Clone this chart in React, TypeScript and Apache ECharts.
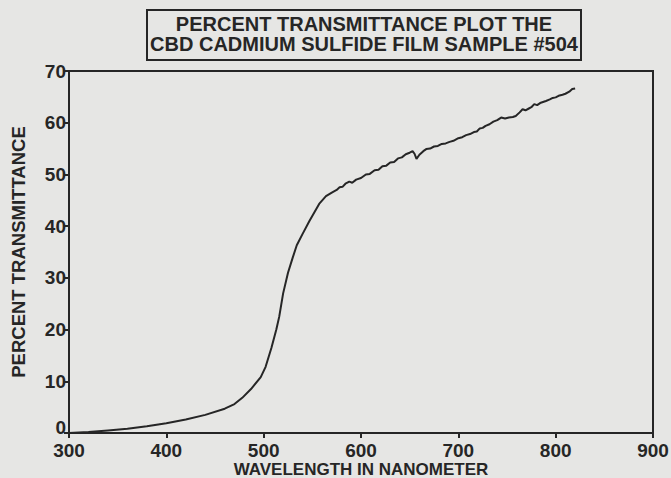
import React, { useEffect, useRef } from "react";
import * as echarts from "echarts";

const wavelengths = [
  300, 320, 340, 360, 380, 400, 420, 440, 460, 470, 478, 487, 497, 502, 508, 513, 516, 520, 525, 530,
  534, 540, 547, 557, 564, 570, 575, 578, 581, 584, 588, 591, 595, 600, 605, 609, 614, 618, 622, 626,
  630, 634, 638, 642, 646, 650, 653, 655, 657, 660, 664, 667, 671, 675, 679, 683, 687, 691, 695, 700,
  704, 708, 712, 716, 719, 722, 725, 728, 732, 736, 740, 744, 748, 752, 756, 759, 763, 766, 769, 772,
  775, 778, 781, 784, 787, 790, 794, 797, 800, 803, 807, 810, 814, 817, 820,
];
const transmittance = [
  0, 0.2, 0.5, 0.8, 1.3, 1.9, 2.6, 3.5, 4.7, 5.6, 6.8, 8.5, 10.8, 12.8, 16.5, 20.0, 22.5, 27.0, 31.0, 34.0,
  36.3, 38.5, 41.0, 44.3, 45.8, 46.5, 47.0, 47.5, 47.6, 48.2, 48.6, 48.4, 49.0, 49.3, 50.0, 50.1, 50.8, 50.9, 51.6, 51.7,
  52.3, 52.4, 53.1, 53.3, 53.9, 54.2, 54.5, 54.0, 53.0, 53.8, 54.5, 54.9, 55.0, 55.4, 55.5, 55.9, 56.0, 56.3, 56.5, 57.0,
  57.2, 57.6, 57.8, 58.2, 58.3, 58.9, 59.0, 59.4, 59.7, 60.2, 60.5, 61.0, 60.8, 61.0, 61.1, 61.3, 62.0, 62.6, 62.4, 62.7,
  63.0, 63.6, 63.4, 63.8, 64.0, 64.2, 64.5, 64.8, 64.9, 65.2, 65.4, 65.6, 66.0, 66.5, 66.6,
];

const titleLines = ["PERCENT TRANSMITTANCE PLOT THE", "CBD CADMIUM SULFIDE FILM SAMPLE #504"];
const xAxisTitle = "WAVELENGTH IN NANOMETER";
const yAxisTitle = "PERCENT TRANSMITTANCE";

const FONT = "'Liberation Sans', Arial, Helvetica, sans-serif";
const INK = "#262626";
const PAPER = "#e6e6e4";

export default function App() {
  const ref = useRef<HTMLDivElement>(null);
  useEffect(() => {
    document.body.style.margin = "0";
    document.body.style.background = PAPER;
    const chart = echarts.init(ref.current!, null, { renderer: "svg" });
    const data = wavelengths.map((w, i) => [w, transmittance[i]]);
    const labelText = { fontFamily: FONT, fontWeight: "bold" as const, fontSize: 19, color: INK };
    chart.setOption({
      animation: false,
      backgroundColor: PAPER,
      title: {
        text: titleLines.join("\n"),
        left: 361,
        top: 10,
        textAlign: "center",
        borderColor: INK,
        borderWidth: 2,
        padding: [4, 3, 6, 3],
        textStyle: {
          fontFamily: FONT,
          fontWeight: "bold",
          fontSize: 20,
          lineHeight: 20,
          color: INK,
        },
      },
      grid: {
        left: 69,
        right: 18,
        top: 71,
        bottom: 45,
        outerBoundsMode: "none",
        containLabel: false,
        show: true,
        borderColor: INK,
        borderWidth: 2,
        backgroundColor: "transparent",
      },
      xAxis: {
        type: "value",
        min: 300,
        max: 900,
        interval: 100,
        name: xAxisTitle,
        nameLocation: "middle",
        nameGap: 28,
        nameMoveOverlap: false,
        nameTextStyle: { fontFamily: FONT, fontWeight: "bold", fontSize: 17, color: INK },
        axisLine: { show: true, lineStyle: { color: INK, width: 2 } },
        axisTick: { show: true, length: 5, lineStyle: { color: INK, width: 2 } },
        axisLabel: { ...labelText, lineHeight: 14, margin: 10 },
        splitLine: { show: false },
      },
      yAxis: {
        type: "value",
        min: 0,
        max: 70,
        interval: 10,
        name: yAxisTitle,
        nameLocation: "middle",
        nameRotate: 90,
        nameGap: 41,
        nameMoveOverlap: false,
        nameTextStyle: { fontFamily: FONT, fontWeight: "bold", fontSize: 18.5, color: INK },
        axisLine: { show: true, lineStyle: { color: INK, width: 2 } },
        axisTick: { show: true, length: 5, lineStyle: { color: INK, width: 2 } },
        axisLabel: {
          ...labelText,
          lineHeight: 14,
          margin: 3,
          formatter: (v: number) => (v === 0 ? "{zero|0}" : String(v)),
          rich: {
            zero: { ...labelText, lineHeight: 14, padding: [0, 0, 11, 0] },
          },
        },
        splitLine: { show: false },
      },
      series: [
        {
          type: "line",
          data,
          showSymbol: false,
          smooth: false,
          lineStyle: { color: INK, width: 2 },
        },
      ],
    });
    return () => chart.dispose();
  }, []);
  return <div ref={ref} style={{ width: 671, height: 478 }} />;
}
